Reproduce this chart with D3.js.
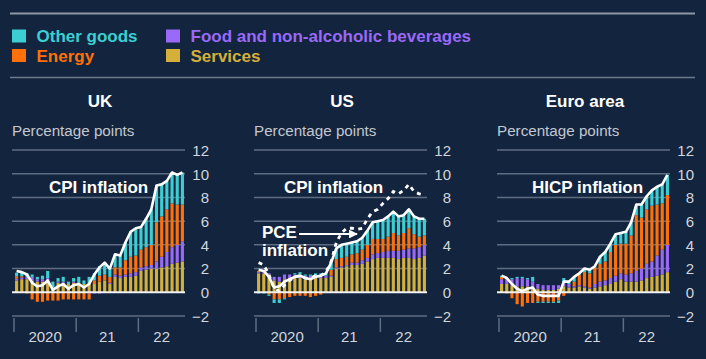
<!DOCTYPE html>
<html><head><meta charset="utf-8">
<script src="https://cdn.jsdelivr.net/npm/d3@7"></script>
<style>
html,body{margin:0;padding:0;background:#13243e;}
svg{display:block;font-family:"Liberation Sans",Arial,sans-serif;}
</style></head>
<body><svg id="c" width="706" height="359"></svg>
<script>
const months = ["2020-01","2020-02","2020-03","2020-04","2020-05","2020-06","2020-07","2020-08","2020-09","2020-10","2020-11","2020-12",
"2021-01","2021-02","2021-03","2021-04","2021-05","2021-06","2021-07","2021-08","2021-09","2021-10","2021-11","2021-12",
"2022-01","2022-02","2022-03","2022-04","2022-05","2022-06","2022-07","2022-08","2022-09"];
const yearStarts = ["2020-01","2021-01","2022-01"];
const yearLabels = ["2020","21","22"];
const yTicks = [-2,0,2,4,6,8,10,12];
const seriesNames = ["Services","Food and non-alcoholic beverages","Energy","Other goods"];
const panelTitles = ["UK","US","Euro area"];

// UK contributions (pp)
const ukServices = [1.0,1.1,1.1,1.0,0.9,0.9,1.0,0.4,0.8,0.8,0.7,0.8,0.8,0.7,0.8,0.7,0.9,1.0,0.7,1.3,1.2,1.3,1.3,1.4,1.8,1.9,2.0,2.0,2.1,2.2,2.4,2.5,2.6];
const ukFood     = [0.15,0.15,0.2,0.3,0.2,0.2,0.2,0.0,0.1,0.1,0.0,0.1,0.0,0.0,-0.1,-0.1,-0.1,0.0,0.1,0.2,0.2,0.2,0.3,0.3,0.3,0.3,0.3,0.6,0.9,1.2,1.4,1.5,1.7];
const ukEnergy   = [0.2,0.1,-0.1,-0.6,-0.8,-0.8,-0.7,-0.7,-0.7,-0.6,-0.6,-0.6,-0.6,-0.6,-0.5,0.3,0.5,0.5,0.5,0.6,0.7,1.2,1.4,1.4,1.5,1.6,1.7,3.3,3.4,3.6,3.7,3.4,3.1];
const ukOther    = [0.3,0.3,0.3,0.2,0.2,0.3,0.6,0.5,0.3,0.4,0.2,0.3,0.5,0.3,0.5,0.6,0.8,1.0,0.7,1.1,1.0,1.5,2.1,2.3,1.9,2.4,3.0,3.1,2.7,2.4,2.6,2.5,2.7];
const ukCPI      = [1.8,1.7,1.5,0.8,0.5,0.6,1.0,0.2,0.5,0.7,0.3,0.6,0.7,0.4,0.7,1.5,2.1,2.5,2.0,3.2,3.1,4.2,5.1,5.4,5.5,6.2,7.0,9.0,9.1,9.4,10.1,9.9,10.1];

// US contributions (pp, PCE)
const usServices = [1.6,1.6,1.5,1.0,0.9,1.1,1.2,1.2,1.2,1.1,1.1,1.2,1.2,1.2,1.3,2.0,2.1,2.2,2.3,2.3,2.4,2.6,2.8,2.9,2.9,2.9,2.9,2.8,2.9,2.9,2.8,2.9,3.1];
const usFood     = [0.1,0.1,0.1,0.3,0.4,0.4,0.3,0.3,0.3,0.3,0.3,0.2,0.2,0.2,0.1,0.1,0.1,0.1,0.2,0.2,0.3,0.3,0.4,0.4,0.5,0.6,0.6,0.7,0.7,0.8,0.9,0.9,0.9];
const usEnergy   = [0.1,0.1,-0.2,-0.6,-0.6,-0.5,-0.4,-0.3,-0.3,-0.3,-0.4,-0.3,-0.2,0.0,0.5,0.7,0.7,0.7,0.7,0.8,0.9,1.1,1.3,1.2,1.1,1.2,1.5,1.3,1.4,1.7,1.2,0.9,0.8];
const usOther    = [-0.1,-0.1,-0.1,-0.3,-0.3,-0.1,0.0,0.1,0.2,0.1,0.1,0.2,0.2,0.2,0.6,0.9,1.1,1.1,1.0,1.0,1.0,1.2,1.4,1.5,1.6,1.7,1.8,1.6,1.5,1.6,1.5,1.5,1.4];
const usPCE      = [1.9,1.8,1.3,0.4,0.5,0.9,1.1,1.3,1.4,1.2,1.1,1.3,1.4,1.6,2.5,3.7,4.0,4.1,4.2,4.3,4.6,5.2,5.9,6.0,6.1,6.4,6.8,6.4,6.5,7.0,6.4,6.2,6.2];
const usCPI      = [2.5,2.3,1.5,0.3,0.1,0.6,1.0,1.3,1.4,1.2,1.2,1.4,1.4,1.7,2.6,4.2,5.0,5.4,5.4,5.3,5.4,6.2,6.8,7.0,7.5,7.9,8.5,8.3,8.6,9.1,8.5,8.3,8.2];

// Euro area contributions (pp, HICP)
const eaServices = [0.7,0.7,0.6,0.5,0.5,0.5,0.4,0.3,0.2,0.2,0.2,0.3,0.5,0.4,0.4,0.5,0.4,0.3,0.4,0.5,0.6,0.7,0.9,1.1,0.9,0.9,0.9,1.0,1.2,1.3,1.4,1.5,1.7];
const eaFood     = [0.4,0.4,0.5,0.7,0.7,0.6,0.5,0.4,0.4,0.4,0.4,0.3,0.3,0.3,0.1,0.1,0.1,0.1,0.3,0.4,0.4,0.5,0.5,0.5,0.6,0.7,0.9,1.0,1.2,1.3,1.7,2.1,2.3];
const eaEnergy   = [0.2,-0.1,-0.5,-1.0,-1.2,-0.9,-0.9,-0.8,-0.8,-0.8,-0.8,-0.7,-0.3,0.0,0.4,0.9,1.2,1.2,1.4,1.5,1.6,2.2,2.6,2.5,2.6,3.2,4.7,4.3,4.6,4.7,4.3,3.9,4.2];
const eaOther    = [0.1,0.1,0.1,0.1,0.1,0.1,0.4,-0.1,-0.1,-0.1,-0.1,-0.2,0.4,0.2,0.4,0.1,0.3,0.3,0.1,0.6,0.8,0.7,0.9,0.9,1.0,1.1,0.9,1.1,1.1,1.3,1.5,1.6,1.7];
const eaHICP     = [1.4,1.2,0.7,0.3,0.1,0.3,0.4,-0.2,-0.3,-0.3,-0.3,-0.3,0.9,0.9,1.3,1.6,2.0,1.9,2.2,3.0,3.4,4.1,4.9,5.0,5.1,5.9,7.4,7.4,8.1,8.6,8.9,9.1,9.9];

const colors = {"Services":"#d4b03a","Food and non-alcoholic beverages":"#9a69f8","Energy":"#ff7008","Other goods":"#3ccfd2"};
const BG = "#13243e", GRID = "#5f6d82", TXT = "#d2d6dc", SUB = "#c3c8d0";
const FONT = '"Liberation Sans",Arial,sans-serif';

const svg = d3.select("#c");
svg.append("rect").attr("width",706).attr("height",359).attr("fill",BG);

// Rules
svg.append("line").attr("x1",10).attr("x2",695).attr("y1",13.5).attr("y2",13.5).attr("stroke","#8d97a6").attr("stroke-width",2);
svg.append("line").attr("x1",10).attr("x2",695).attr("y1",77.5).attr("y2",77.5).attr("stroke","#6e7a8c").attr("stroke-width",1.5);

// Legend
const legendItems = [
  {name:"Other goods", x:12, y:36},
  {name:"Energy", x:12, y:55.5},
  {name:"Food and non-alcoholic beverages", x:166, y:36},
  {name:"Services", x:166, y:55.5}
];
legendItems.forEach(it=>{
  svg.append("rect").attr("x",it.x).attr("y",it.y-6.5).attr("width",14).attr("height",13).attr("fill",colors[it.name]);
  svg.append("text").attr("x",it.x+24.5).attr("y",it.y+6).attr("fill",colors[it.name])
    .attr("font-size",17).attr("font-weight","bold").attr("font-family",FONT).text(it.name);
});

const panels = [
  {title:panelTitles[0], gx:12, services:ukServices, food:ukFood, energy:ukEnergy, other:ukOther, line:ukCPI},
  {title:panelTitles[1], gx:254, services:usServices, food:usFood, energy:usEnergy, other:usOther, line:usPCE, dashed:usCPI},
  {title:panelTitles[2], gx:497, services:eaServices, food:eaFood, energy:eaEnergy, other:eaOther, line:eaHICP}
];

const y = d3.scaleLinear().domain([-2,12]).range([316,150]);

panels.forEach((p,pi)=>{
  const g = svg.append("g");
  const x = d3.scaleBand().domain(months).range([p.gx+2, p.gx+173]).padding(0);
  const bw = x.bandwidth();
  const barW = 3.1;

  // title
  g.append("text").attr("x",p.gx+88).attr("y",107).attr("text-anchor","middle").attr("fill","#ffffff")
    .attr("font-size",17).attr("font-weight","bold").attr("font-family",FONT).text(p.title);
  g.append("text").attr("x",p.gx).attr("y",135.5).attr("fill",SUB)
    .attr("font-size",15.2).attr("font-family",FONT).text("Percentage points");

  // grid
  yTicks.forEach(t=>{
    if(t===0) return;
    g.append("line").attr("x1",p.gx).attr("x2",p.gx+173).attr("y1",y(t)).attr("y2",y(t))
      .attr("stroke",GRID).attr("stroke-width",1.5);
  });
  // y axis labels via d3 axis
  const ax = g.append("g").attr("transform",`translate(${p.gx+197},0)`)
    .call(d3.axisLeft(y).tickValues(yTicks).tickSize(0).tickPadding(0).tickFormat(d3.format("d")));
  ax.select(".domain").remove();
  ax.selectAll("text").attr("fill",TXT).attr("font-size",15).attr("font-family",FONT).attr("text-anchor","end").attr("dy","0.36em");

  // stacked bars
  const rows = months.map((m,i)=>({month:m, "Services":p.services[i], "Food and non-alcoholic beverages":p.food[i], "Energy":p.energy[i], "Other goods":p.other[i]}));
  const stack = d3.stack().keys(seriesNames).offset(d3.stackOffsetDiverging)(rows);
  stack.forEach(layer=>{
    g.append("g").attr("fill",colors[layer.key]).selectAll("rect").data(layer).join("rect")
      .attr("x",d=>x(d.data.month)+(bw-barW)/2)
      .attr("width",barW)
      .attr("y",d=>y(Math.max(d[0],d[1])))
      .attr("height",d=>Math.abs(y(d[0])-y(d[1])));
  });

  // zero line
  g.append("line").attr("x1",p.gx).attr("x2",p.gx+173).attr("y1",y(0)).attr("y2",y(0))
    .attr("stroke","#f2f2f2").attr("stroke-width",2);

  // x axis ticks and year labels
  const tickXs = yearStarts.map(m=>x(m));
  tickXs.forEach(tx=>{
    g.append("line").attr("x1",tx).attr("x2",tx).attr("y1",318).attr("y2",332).attr("stroke",GRID).attr("stroke-width",1.5);
  });
  const ends = tickXs.slice(1).concat([p.gx+173]);
  yearLabels.forEach((lab,i)=>{
    g.append("text").attr("x",(tickXs[i]+ends[i])/2).attr("y",342).attr("text-anchor","middle")
      .attr("fill",TXT).attr("font-size",15).attr("font-family",FONT).text(lab);
  });

  const line = d3.line().x((d,i)=>x(months[i])+bw/2).y(d=>y(d));
  if(p.dashed){
    g.append("path").datum(p.dashed).attr("d",line).attr("fill","none").attr("stroke","#ffffff")
      .attr("stroke-width",2.8).attr("stroke-dasharray","4,4.5");
  }
  g.append("path").datum(p.line).attr("d",line).attr("fill","none").attr("stroke","#ffffff")
    .attr("stroke-width",2.6).attr("stroke-linejoin","round");
});

// annotations
function label(txt,x0,y0){
  svg.append("text").attr("x",x0).attr("y",y0).attr("fill","#ffffff").attr("font-size",17)
    .attr("font-weight","bold").attr("font-family",FONT).text(txt);
}
label("CPI inflation",49,193);
label("CPI inflation",284,193);
label("HICP inflation",532,193);
label("PCE",262,238);
label("inflation",262,256);
// arrow
svg.append("defs").append("marker").attr("id","ah").attr("viewBox","0 0 10 10").attr("refX",9).attr("refY",5)
  .attr("markerWidth",4).attr("markerHeight",4).attr("orient","auto")
  .append("path").attr("d","M0,0L10,5L0,10Z").attr("fill","#ffffff");
svg.append("line").attr("x1",299).attr("x2",357).attr("y1",234).attr("y2",234).attr("stroke","#ffffff")
  .attr("stroke-width",2.2).attr("marker-end","url(#ah)");
</script></body></html>
